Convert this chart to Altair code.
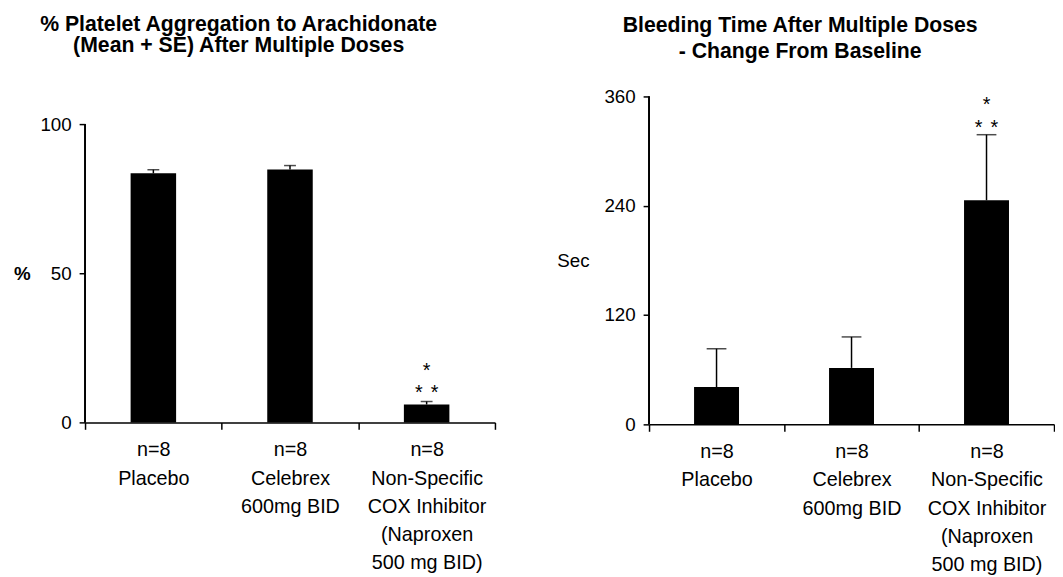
import altair as alt
import pandas as pd

categories = [
    "n=8|Placebo",
    "n=8|Celebrex|600mg BID",
    "n=8|Non-Specific|COX Inhibitor|(Naproxen|500 mg BID)",
]
platelet_mean = [83.5, 84.8, 6.0]
platelet_upper = [84.7, 86.1, 7.0]
bleed_mean = [41, 62, 246]
bleed_upper = [83, 96, 318]
platelet_ticks = [0, 50, 100]
bleed_ticks = [0, 120, 240, 360]
# significance marks on the naproxen bar: single-star row, double-star row
platelet_star_y = [18.9, 11.6]
bleed_star_y = [355.7, 331]

FONT = "Liberation Sans"


def panel(means, uppers, ticks, star_y, title_lines, line_h, title_off,
          ytitle, ytitle_bold, ytitle_x, width, height, axis_h, cap):
    df = pd.DataFrame({"cat": categories, "mean": means, "upper": uppers})
    ymax = ticks[-1]
    # scale top sits above the last tick so that the axis line stops at ymax
    ytop = ymax * height / axis_h
    xs = alt.X("cat:N", sort=categories)
    x = alt.X(
        "cat:N", sort=categories, title=None,
        scale=alt.Scale(paddingInner=0, paddingOuter=0),
        axis=alt.Axis(
            labelAngle=0, labelExpr="split(datum.label, '|')",
            labelLineHeight=28.4, labelFontSize=20, labelPadding=11,
            tickBand="extent", tickSize=7, labelBaseline="top",
        ),
    )
    y = alt.Y(
        "mean:Q",
        scale=alt.Scale(domain=[0, ytop], nice=False),
        axis=alt.Axis(
            values=ticks, title=ytitle, titleAngle=0, titleAlign="center",
            titleBaseline="middle", titleX=ytitle_x,
            titleY=height - axis_h / 2,
            titleFontSize=19, titleFontWeight="bold" if ytitle_bold else "normal",
            labelFontSize=19, labelPadding=8, tickSize=6, grid=False,
            domain=False,
        ),
    )
    bars = alt.Chart(df).mark_bar(
        color="black", width=alt.RelativeBandSize(0.333)
    ).encode(x=x, y=y)
    yline = alt.Chart(df).mark_rule(color="black", strokeWidth=1.5).encode(
        x=alt.value(0), y=alt.datum(0), y2=alt.datum(ymax))
    err = alt.Chart(df).mark_rule(color="black", strokeWidth=1.5).encode(
        x=xs, y="mean:Q", y2="upper:Q")
    caps = alt.Chart(df).mark_tick(color="black", size=cap, thickness=1.5).encode(
        x=xs, y="upper:Q")
    layers = [bars, yline, err, caps]
    for v, dx in [(star_y[0], 0), (star_y[1], -8), (star_y[1], 8)]:
        sdf = pd.DataFrame({"cat": [categories[2]], "v": [v]})
        layers.append(
            alt.Chart(sdf).mark_text(
                text="*", fontSize=20, color="black", baseline="middle",
                dy=5, dx=dx, font=FONT,
            ).encode(x=xs, y="v:Q")
        )
    return alt.layer(*layers).properties(
        width=width, height=height,
        title=alt.TitleParams(
            text=title_lines, font=FONT, fontSize=21.5, fontWeight="bold",
            lineHeight=line_h, offset=title_off, anchor="middle", dx=-52,
            color="black",
        ),
    )


left = panel(platelet_mean, platelet_upper, platelet_ticks, platelet_star_y,
             ["% Platelet Aggregation to Arachidonate",
              "(Mean + SE) After Multiple Doses"], 22, 40,
             "%", True, -64, 415, 330, 302, 12)
right = panel(bleed_mean, bleed_upper, bleed_ticks, bleed_star_y,
              ["Bleeding Time After Multiple Doses",
               "- Change From Baseline"], 27, 25,
              "Sec", False, -77, 410, 332, 332, 20)

chart = alt.hconcat(left, right, spacing=61).properties(
    padding={"left": 5, "top": 2, "right": 0, "bottom": 0}
).configure(font=FONT).configure_view(stroke=None).configure_axis(
    domainColor="black", domainWidth=1.5, tickColor="black", tickWidth=1.5,
    labelColor="black", titleColor="black", labelFont=FONT, titleFont=FONT,
)

chart.save("out.html", embed_options={"renderer": "svg", "actions": False})
